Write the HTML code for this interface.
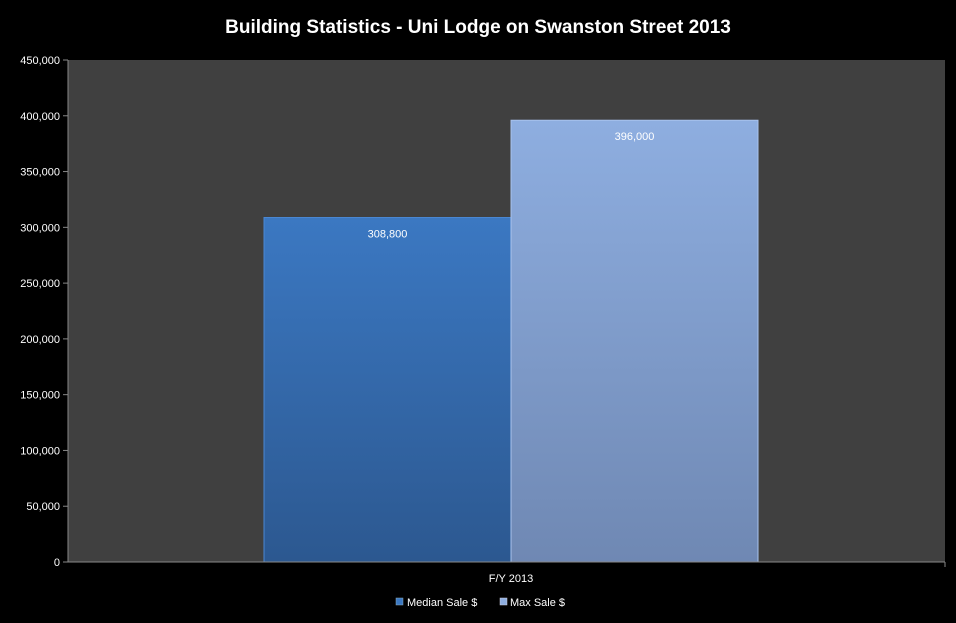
<!DOCTYPE html>
<html><head><meta charset="utf-8"><style>
body{margin:0;background:#000;}
svg{display:block;font-family:"Liberation Sans",sans-serif;}
</style></head><body>
<svg id="chart" width="956" height="623" viewBox="0 0 956 623">
<defs>
<linearGradient id="g1" x1="0" y1="0" x2="0" y2="1"><stop offset="0" stop-color="#3b78c2"/><stop offset="1" stop-color="#2c5890"/></linearGradient>
<linearGradient id="g2" x1="0" y1="0" x2="0" y2="1"><stop offset="0" stop-color="#8eaee0"/><stop offset="1" stop-color="#6f88b3"/></linearGradient>
</defs>
<rect width="956" height="623" fill="#000"/>
<text x="478" y="33" fill="#fff" font-size="19" font-weight="bold" text-anchor="middle">Building Statistics - Uni Lodge on Swanston Street 2013</text>
<rect x="68" y="60" width="877" height="502" fill="#404040"/>
<g id="yaxis"></g>
<g id="bars"></g>
<line x1="68" y1="562" x2="945" y2="562" stroke="#888"/>
<line x1="68" y1="60" x2="68" y2="562" stroke="#888"/>
<line x1="945" y1="562" x2="945" y2="567" stroke="#888"/>
<text x="511" y="582" fill="#fff" font-size="11" text-anchor="middle">F/Y 2013</text>
<g>
<rect x="396" y="598" width="7" height="7" fill="#3b78c2" stroke="#8ab" stroke-width="0.5"/>
<text x="407" y="606" fill="#fff" font-size="11">Median Sale $</text>
<rect x="500" y="598" width="7" height="7" fill="#8eaee0" stroke="#ccd" stroke-width="0.5"/>
<text x="510" y="606" fill="#fff" font-size="11">Max Sale $</text>
</g>
</svg>
<script>
const seriesNames = ["Median Sale $", "Max Sale $"];
const seriesValues = [308800, 396000];
const valueLabels = ["308,800", "396,000"];
const yTicks = [0,50000,100000,150000,200000,250000,300000,350000,400000,450000];
const yTickLabels = ["0","50,000","100,000","150,000","200,000","250,000","300,000","350,000","400,000","450,000"];
const ns="http://www.w3.org/2000/svg";
const y0=562,y1=60,yMax=450000;
const yScale=v=>y0-(v/yMax)*(y0-y1);
const bx0=264,bw=247;
const xScale=i=>bx0+i*bw;
const fills=["url(#g1)","url(#g2)"];
const ya=document.getElementById('yaxis');
yTicks.forEach((t,i)=>{
  const y=yScale(t);
  const l=document.createElementNS(ns,'line');
  l.setAttribute('x1',63);l.setAttribute('x2',68);l.setAttribute('y1',y);l.setAttribute('y2',y);l.setAttribute('stroke','#888');
  
  
  ya.appendChild(l);
  const tx=document.createElementNS(ns,'text');
  tx.setAttribute('x',60);tx.setAttribute('y',y+4);tx.setAttribute('fill','#fff');tx.setAttribute('font-size','11');tx.setAttribute('text-anchor','end');
  tx.textContent=yTickLabels[i];
  
  
  ya.appendChild(tx);
});
const bg=document.getElementById('bars');
seriesValues.forEach((v,i)=>{
  const x=xScale(i),y=yScale(v);
  const r=document.createElementNS(ns,'rect');
  r.setAttribute('x',x);r.setAttribute('y',y);r.setAttribute('width',bw);r.setAttribute('height',y0-y);
  r.setAttribute('fill',fills[i]);r.setAttribute('stroke',i?'#a9c3ee':'#4a88d4');r.setAttribute('stroke-width','1');
  
  
  bg.appendChild(r);
  const t=document.createElementNS(ns,'text');
  t.setAttribute('x',x+bw/2);t.setAttribute('y',y+20);t.setAttribute('fill','#fff');t.setAttribute('font-size','11');t.setAttribute('text-anchor','middle');
  t.textContent=valueLabels[i];
  
  
  bg.appendChild(t);
});
</script>
</body></html>
